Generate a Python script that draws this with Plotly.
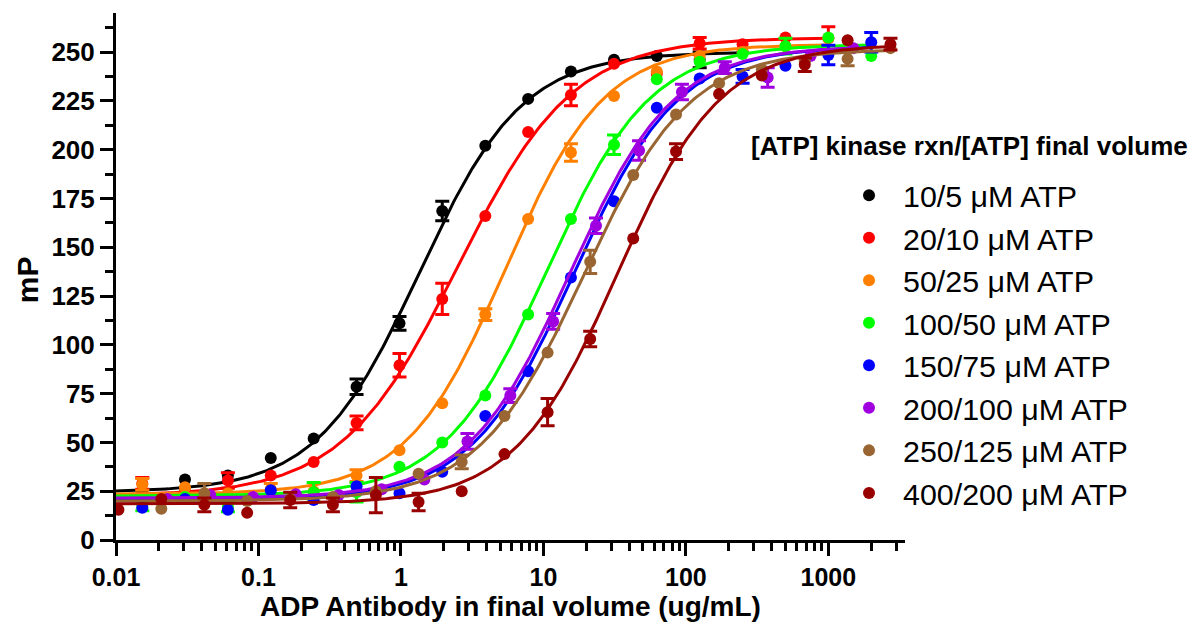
import numpy as np
import plotly.graph_objects as go

# ---------------- data ----------------
series_names = ["10/5 μM ATP", "20/10 μM ATP", "50/25 μM ATP", "100/50 μM ATP",
                "150/75 μM ATP", "200/100 μM ATP", "250/125 μM ATP", "400/200 μM ATP"]
series_colors = ["#000000", "#FF0000", "#FF8000", "#00FF00",
                 "#0000FF", "#A000E0", "#996633", "#990000"]

black_x = [0.0153, 0.0305, 0.061, 0.122, 0.244, 0.488, 0.977, 1.95, 3.91, 7.81, 15.6, 31.3, 62.5, 125, 250]
black_y = [25, 31, 33, 42, 52, 78.5, 111, 168.5, 202, 226, 240, 246, 248, 246, 250]
black_err = [0, 0, 0, 0, 0, 4, 3.5, 5, 0, 0, 0, 0, 0, 4, 0]

red_x = [0.0153, 0.0305, 0.061, 0.122, 0.244, 0.488, 0.977, 1.95, 3.91, 7.81, 15.6, 31.3, 62.5, 125, 250, 500, 1000]
red_y = [29, 25, 30.5, 33, 40, 60, 89.5, 123.5, 166, 209, 228, 244, 239, 254.5, 254, 257.5, 257]
red_err = [3, 0, 4, 0, 0, 3.5, 6, 8, 0, 0, 5.5, 0, 0, 3, 0, 0, 6]

orange_x = [0.0153, 0.0305, 0.061, 0.122, 0.244, 0.488, 0.977, 1.95, 3.91, 7.81, 15.6, 31.3, 62.5, 125, 250, 500, 1000]
orange_y = [28.5, 27, 24, 26, 25, 33, 46, 70, 115.5, 164.5, 198.5, 227.5, 240, 248, 250, 253, 257]
orange_err = [3, 0, 0, 3, 0, 3, 0, 0, 3, 0, 4.5, 0, 0, 0, 0, 0, 0]

green_x = [0.0153, 0.0305, 0.061, 0.122, 0.244, 0.488, 0.977, 1.95, 3.91, 7.81, 15.6, 31.3, 62.5, 125, 250, 500, 1000, 2000]
green_y = [17, 22, 17, 23, 24.5, 24.5, 37.5, 50, 74, 115.5, 164.5, 202.5, 236, 245, 249, 253, 257.5, 248]
green_err = [2, 0, 2.5, 0, 5, 5, 0, 0, 0, 0, 0, 5, 0, 0, 0, 4, 0, 0]

blue_x = [0.0153, 0.0305, 0.061, 0.122, 0.244, 0.488, 0.977, 1.95, 3.91, 7.81, 15.6, 31.3, 62.5, 125, 250, 500, 1000, 2000]
blue_y = [16.5, 21, 15.5, 25.5, 20.5, 27.5, 24, 35, 63.5, 86.5, 134.5, 173.5, 221.5, 236.5, 237.5, 243, 248.5, 255]
blue_err = [0, 0, 0, 0, 0, 0, 0, 0, 0, 0, 0, 0, 0, 0, 3.5, 0, 5, 5]

purple_x = [0.0229, 0.0458, 0.0916, 0.183, 0.366, 0.732, 1.46, 2.93, 5.86, 11.7, 23.4, 46.9, 93.8, 187.5, 375, 750, 1500]
purple_y = [21, 23, 22, 23.5, 23, 26, 31, 50.5, 74, 112, 161, 199.5, 229.5, 242, 237, 248, 252]
purple_err = [0, 0, 0, 0, 0, 0, 0, 4, 3.5, 4, 4, 5, 4, 3, 5, 0, 0]

brown_x = [0.0208, 0.0417, 0.0833, 0.167, 0.333, 0.667, 1.33, 2.67, 5.33, 10.7, 21.3, 42.7, 85.3, 171, 341, 683, 1365, 2730]
brown_y = [16, 24, 20, 21, 22, 25, 34, 40, 63.5, 96, 142.5, 187, 218, 234, 241, 245, 246.5, 252]
brown_err = [0, 5, 0, 0, 0, 0, 0, 3.5, 0, 0, 6, 0, 0, 0, 0, 0, 3.5, 0]

darkred_x = [0.0104, 0.0208, 0.0417, 0.0833, 0.167, 0.333, 0.667, 1.33, 2.67, 5.33, 10.7, 21.3, 42.7, 85.3, 171, 341, 683, 1365, 2730]
darkred_y = [15.5, 21, 18, 14, 20.5, 18, 23, 19.5, 25, 44, 65.5, 103, 154.5, 199, 228.5, 238, 243.5, 256, 254]
darkred_err = [0, 0, 3.5, 0, 4, 3.5, 9, 4.5, 0, 0, 7, 4, 0, 4, 0, 0, 3.5, 0, 3]

# four-parameter logistic fit parameters
fit_bottom = [24.5, 22.5, 23.5, 22.5, 21.0, 21.5, 20.0, 18.5]
fit_top = [250.0, 257.5, 254.0, 254.0, 253.0, 253.0, 251.5, 254.0]
fit_ec50 = [1.35, 2.5, 5.4, 10.6, 16.5, 15.5, 19.2, 33.0]
fit_hill = [1.2, 1.07, 1.25, 1.2, 1.2, 1.2, 1.17, 1.2]

x_tick_vals = [0.01, 0.1, 1, 10, 100, 1000]
x_tick_text = ["0.01", "0.1", "1", "10", "100", "1000"]

x_title = "ADP Antibody in final volume (ug/mL)"
y_title = "mP"
legend_title = "[ATP] kinase rxn/[ATP] final volume"

# ---------------- figure ----------------
all_x = [black_x, red_x, orange_x, green_x, blue_x, purple_x, brown_x, darkred_x]
all_y = [black_y, red_y, orange_y, green_y, blue_y, purple_y, brown_y, darkred_y]
all_e = [black_err, red_err, orange_err, green_err, blue_err, purple_err, brown_err, darkred_err]

FONT = "Liberation Sans, Arial, sans-serif"
fig = go.Figure()

for i in range(8):
    col = series_colors[i]
    xs = np.array(all_x[i], dtype=float)
    ys = np.array(all_y[i], dtype=float)
    es = np.array(all_e[i], dtype=float)
    # fitted curve
    xc = np.logspace(-2, np.log10(xs.max()), 400)
    yc = fit_bottom[i] + (fit_top[i] - fit_bottom[i]) / (1 + (fit_ec50[i] / xc) ** fit_hill[i])
    fig.add_trace(go.Scatter(x=xc, y=yc, mode="lines", line=dict(color=col, width=3),
                             showlegend=False, hoverinfo="skip"))
    # points
    fig.add_trace(go.Scatter(x=xs, y=ys, mode="markers", name=series_names[i],
                             marker=dict(color=col, size=12, line=dict(width=0))))
    # error bars
    m = es > 0
    fig.add_trace(go.Scatter(x=xs[m], y=ys[m], mode="markers",
                             marker=dict(color=col, size=1, opacity=0),
                             error_y=dict(type="data", array=es[m], visible=True,
                                          color=col, thickness=3, width=7),
                             showlegend=False, hoverinfo="skip"))

minor_x = [k * 10.0 ** e for e in range(-2, 4) for k in range(2, 10) if k * 10.0 ** e < 3400]

fig.update_xaxes(type="log", range=[-2, 3.538], showgrid=False, zeroline=False,
                 showline=True, linewidth=3, linecolor="black",
                 ticks="outside", ticklen=13, tickwidth=3, tickcolor="black",
                 tickmode="array", tickvals=x_tick_vals, ticktext=x_tick_text,
                 tickfont=dict(family=FONT, size=25, color="black", weight="bold"),
                 minor=dict(tickmode="array", tickvals=minor_x, ticks="outside",
                            ticklen=8, tickwidth=3, tickcolor="black", showgrid=False))
fig.update_yaxes(range=[0, 270], showgrid=False, zeroline=False,
                 showline=True, linewidth=3, linecolor="black",
                 ticks="outside", ticklen=13, tickwidth=3, tickcolor="black",
                 tick0=0, dtick=25,
                 tickfont=dict(family=FONT, size=26, color="black", weight="bold"),
                 minor=dict(tick0=0, dtick=12.5, ticks="outside", ticklen=8,
                            tickwidth=3, tickcolor="black", showgrid=False))

fig.update_layout(
    width=1199, height=625,
    margin=dict(l=116, r=294, t=13, b=85),
    paper_bgcolor="white", plot_bgcolor="white",
    showlegend=True,
    legend=dict(x=0.9113, y=0.704, xanchor="left", yanchor="top",
                font=dict(family=FONT, size=30.4, color="black"),
                itemwidth=58, bgcolor="rgba(0,0,0,0)", borderwidth=0,
                tracegroupgap=0),
    annotations=[
        dict(text=x_title, xref="paper", yref="paper", x=0.5, y=-0.1264,
             xanchor="center", yanchor="middle", showarrow=False,
             font=dict(family=FONT, size=28, color="black", weight="bold")),
        dict(text=y_title, xref="paper", yref="paper", x=-0.112, y=0.494,
             xanchor="center", yanchor="middle", showarrow=False, textangle=-90,
             font=dict(family=FONT, size=30, color="black", weight="bold")),
        dict(text=legend_title, xref="paper", yref="paper", x=0.8023, y=0.747,
             xanchor="left", yanchor="middle", showarrow=False,
             font=dict(family=FONT, size=26, color="black", weight="bold")),
    ],
)

fig.write_html("out.html")
